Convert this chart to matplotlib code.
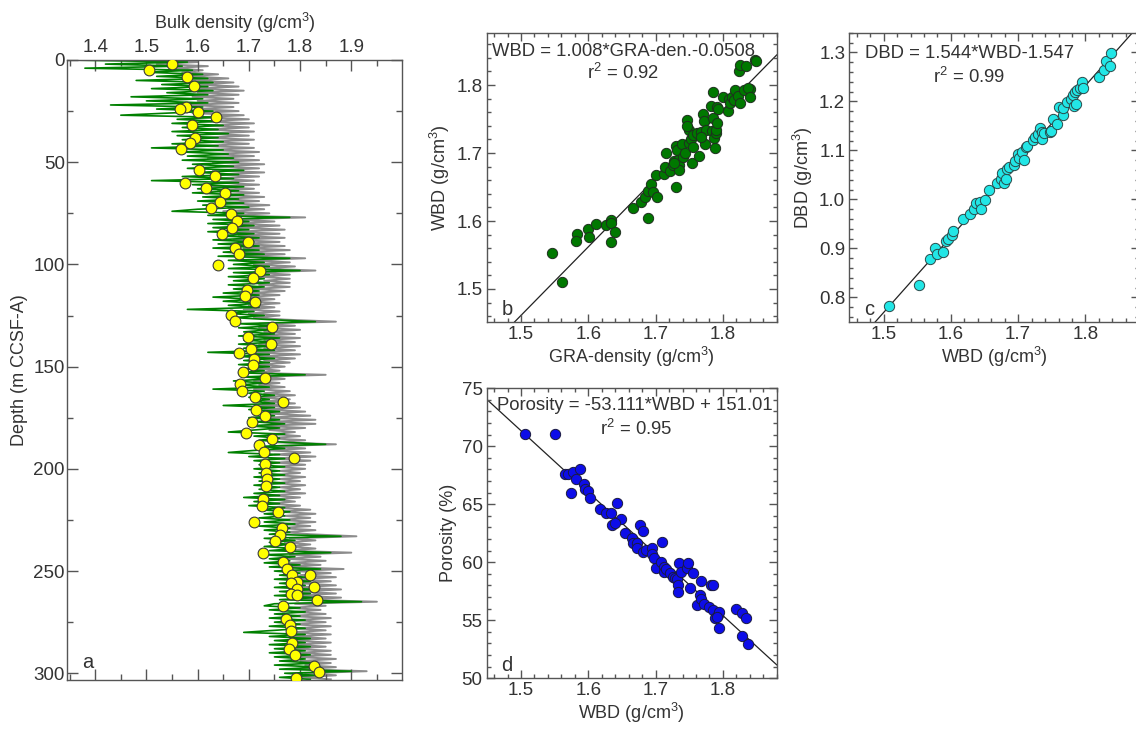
import numpy as np
import matplotlib
matplotlib.use("Agg")
import matplotlib.pyplot as plt
from matplotlib.ticker import MultipleLocator, FixedLocator

plt.rcParams['font.family'] = ['Liberation Sans', 'DejaVu Sans']
plt.rcParams['mathtext.default'] = 'regular'

# ---------------- Panel a data ----------------
depth_log = list(range(0, 304))  # m CCSF-A, 1 m step
green_log = [
    1.35, 1.58, 1.42, 1.57, 1.38, 1.59, 1.50, 1.61, 1.52, 1.62,
    1.48, 1.63, 1.53, 1.62, 1.51, 1.63, 1.54, 1.62, 1.47, 1.61,
    1.50, 1.62, 1.43, 1.61, 1.52, 1.63, 1.54, 1.45, 1.64, 1.56,
    1.64, 1.55, 1.65, 1.57, 1.64, 1.55, 1.66, 1.56, 1.64, 1.57,
    1.65, 1.55, 1.64, 1.51, 1.65, 1.57, 1.66, 1.58, 1.67, 1.57,
    1.68, 1.59, 1.67, 1.58, 1.69, 1.60, 1.68, 1.57, 1.67, 1.51,
    1.68, 1.59, 1.69, 1.60, 1.68, 1.59, 1.69, 1.61, 1.68, 1.60,
    1.69, 1.61, 1.70, 1.60, 1.55, 1.69, 1.62, 1.78, 1.63, 1.70,
    1.62, 1.71, 1.63, 1.70, 1.62, 1.71, 1.64, 1.72, 1.63, 1.71,
    1.64, 1.72, 1.63, 1.72, 1.65, 1.73, 1.64, 1.78, 1.66, 1.73,
    1.67, 1.74, 1.66, 1.80, 1.67, 1.74, 1.66, 1.73, 1.67, 1.74,
    1.66, 1.73, 1.67, 1.72, 1.65, 1.72, 1.63, 1.71, 1.65, 1.72,
    1.66, 1.72, 1.58, 1.71, 1.66, 1.73, 1.67, 1.74, 1.83, 1.68,
    1.75, 1.68, 1.74, 1.69, 1.75, 1.68, 1.76, 1.69, 1.75, 1.68,
    1.74, 1.69, 1.75, 1.62, 1.74, 1.68, 1.75, 1.69, 1.74, 1.68,
    1.74, 1.69, 1.73, 1.68, 1.81, 1.69, 1.74, 1.67, 1.73, 1.68,
    1.74, 1.63, 1.73, 1.70, 1.75, 1.70, 1.74, 1.71, 1.75, 1.65,
    1.75, 1.70, 1.76, 1.71, 1.75, 1.70, 1.76, 1.71, 1.77, 1.70,
    1.76, 1.71, 1.66, 1.77, 1.71, 1.76, 1.72, 1.77, 1.85, 1.72,
    1.77, 1.71, 1.66, 1.76, 1.70, 1.77, 1.71, 1.76, 1.72, 1.77,
    1.71, 1.76, 1.72, 1.77, 1.71, 1.76, 1.72, 1.77, 1.71, 1.76,
    1.72, 1.77, 1.71, 1.76, 1.69, 1.77, 1.71, 1.76, 1.70, 1.77,
    1.72, 1.78, 1.73, 1.77, 1.72, 1.78, 1.73, 1.79, 1.72, 1.78,
    1.73, 1.78, 1.74, 1.88, 1.73, 1.79, 1.74, 1.78, 1.73, 1.79,
    1.74, 1.86, 1.73, 1.79, 1.74, 1.78, 1.73, 1.80, 1.74, 1.84,
    1.75, 1.80, 1.76, 1.81, 1.75, 1.82, 1.76, 1.81, 1.75, 1.83,
    1.76, 1.82, 1.75, 1.83, 1.76, 1.92, 1.75, 1.73, 1.80, 1.74,
    1.81, 1.75, 1.80, 1.74, 1.81, 1.75, 1.80, 1.74, 1.81, 1.75,
    1.69, 1.81, 1.74, 1.82, 1.75, 1.81, 1.74, 1.82, 1.75, 1.81,
    1.74, 1.82, 1.75, 1.81, 1.76, 1.83, 1.75, 1.84, 1.76, 1.90,
    1.77, 1.83, 1.76, 1.82,
]
gray_log = [
    1.55, 1.60, 1.52, 1.62, 1.55, 1.61, 1.57, 1.64, 1.58, 1.66,
    1.59, 1.67, 1.60, 1.68, 1.59, 1.69, 1.60, 1.68, 1.59, 1.67,
    1.60, 1.68, 1.58, 1.67, 1.60, 1.68, 1.59, 1.69, 1.61, 1.70,
    1.61, 1.71, 1.62, 1.70, 1.61, 1.71, 1.62, 1.70, 1.61, 1.71,
    1.62, 1.70, 1.61, 1.71, 1.62, 1.72, 1.63, 1.71, 1.62, 1.72,
    1.63, 1.73, 1.64, 1.72, 1.63, 1.73, 1.64, 1.72, 1.63, 1.71,
    1.64, 1.72, 1.63, 1.71, 1.64, 1.72, 1.65, 1.73, 1.64, 1.72,
    1.65, 1.74, 1.66, 1.73, 1.65, 1.74, 1.66, 1.81, 1.67, 1.75,
    1.67, 1.76, 1.68, 1.77, 1.67, 1.76, 1.68, 1.77, 1.67, 1.76,
    1.68, 1.77, 1.69, 1.78, 1.68, 1.77, 1.69, 1.81, 1.70, 1.78,
    1.71, 1.79, 1.72, 1.83, 1.71, 1.78, 1.72, 1.78, 1.73, 1.78,
    1.72, 1.78, 1.71, 1.77, 1.70, 1.76, 1.69, 1.75, 1.70, 1.76,
    1.70, 1.75, 1.69, 1.76, 1.70, 1.76, 1.71, 1.77, 1.87, 1.72,
    1.79, 1.72, 1.80, 1.73, 1.79, 1.72, 1.80, 1.73, 1.79, 1.72,
    1.80, 1.73, 1.79, 1.71, 1.80, 1.72, 1.79, 1.73, 1.78, 1.72,
    1.77, 1.72, 1.76, 1.71, 1.85, 1.72, 1.77, 1.71, 1.76, 1.72,
    1.77, 1.71, 1.78, 1.73, 1.79, 1.72, 1.78, 1.73, 1.79, 1.72,
    1.80, 1.73, 1.81, 1.74, 1.82, 1.73, 1.83, 1.74, 1.83, 1.73,
    1.81, 1.74, 1.79, 1.75, 1.80, 1.74, 1.81, 1.75, 1.87, 1.74,
    1.81, 1.74, 1.82, 1.75, 1.83, 1.74, 1.82, 1.75, 1.81, 1.75,
    1.81, 1.76, 1.80, 1.75, 1.81, 1.76, 1.80, 1.75, 1.81, 1.76,
    1.80, 1.75, 1.81, 1.74, 1.80, 1.75, 1.79, 1.74, 1.80, 1.75,
    1.82, 1.76, 1.83, 1.77, 1.82, 1.76, 1.83, 1.77, 1.82, 1.76,
    1.83, 1.77, 1.82, 1.91, 1.78, 1.83, 1.77, 1.82, 1.78, 1.83,
    1.77, 1.90, 1.78, 1.84, 1.77, 1.85, 1.78, 1.84, 1.77, 1.885,
    1.79, 1.86, 1.80, 1.87, 1.79, 1.86, 1.80, 1.87, 1.79, 1.88,
    1.80, 1.87, 1.79, 1.88, 1.80, 1.95, 1.79, 1.85, 1.78, 1.84,
    1.79, 1.85, 1.78, 1.86, 1.79, 1.85, 1.78, 1.86, 1.79, 1.85,
    1.78, 1.86, 1.79, 1.85, 1.78, 1.86, 1.79, 1.85, 1.78, 1.86,
    1.80, 1.86, 1.79, 1.87, 1.80, 1.86, 1.81, 1.87, 1.80, 1.93,
    1.81, 1.87, 1.80, 1.86,
]
mad_depth = [2.0, 4.9, 8.2, 12.6, 22.8, 24.1, 25.6, 28.0, 31.8, 38.3, 40.8, 43.7,
             53.8, 56.8, 60.0, 62.7, 65.3, 69.5, 72.3, 75.4, 79.0, 82.1, 85.0, 88.9,
             92.0, 95.1, 100.2, 103.3, 106.4, 112.4, 115.5, 118.5, 124.5, 127.6, 130.5,
             135.4, 138.7, 141.5, 143.3, 146.2, 149.3, 152.6, 155.8, 158.7, 162.0,
             164.8, 167.4, 171.3, 174.1, 177.2, 182.4, 185.4, 188.4, 191.9, 194.8,
             197.6, 202.0, 205.0, 208.5, 214.9, 218.0, 220.9, 226.1, 229.1, 232.2,
             235.3, 238.2, 241.3, 245.7, 248.8, 251.9, 251.7, 255.3, 255.7, 257.9,
             258.6, 261.2, 261.5, 264.2, 267.3, 273.5, 276.5, 279.5, 285.0, 288.0,
             290.9, 296.3, 299.2, 302.2]
mad_density = [1.550, 1.506, 1.580, 1.593, 1.578, 1.565, 1.600, 1.635, 1.590, 1.594,
               1.586, 1.567, 1.602, 1.633, 1.575, 1.617, 1.654, 1.643, 1.626, 1.666,
               1.677, 1.668, 1.648, 1.699, 1.673, 1.681, 1.640, 1.722, 1.709, 1.696,
               1.692, 1.712, 1.666, 1.672, 1.746, 1.698, 1.743, 1.704, 1.681, 1.710,
               1.708, 1.688, 1.731, 1.683, 1.686, 1.712, 1.766, 1.713, 1.732, 1.707,
               1.694, 1.745, 1.720, 1.729, 1.789, 1.732, 1.734, 1.735, 1.733, 1.727,
               1.725, 1.757, 1.711, 1.764, 1.761, 1.751, 1.781, 1.728, 1.767, 1.774,
               1.784, 1.819, 1.794, 1.783, 1.828, 1.794, 1.782, 1.794, 1.834, 1.767,
               1.772, 1.780, 1.783, 1.785, 1.778, 1.791, 1.828, 1.836, 1.792]

# ---------------- Panel b data ----------------
gra_b = [1.546, 1.561, 1.583, 1.582, 1.599, 1.601, 1.611, 1.626, 1.633, 1.633, 1.640,
         1.634, 1.666, 1.679, 1.688, 1.685, 1.688, 1.693, 1.696, 1.702, 1.700, 1.712,
         1.714, 1.716, 1.721, 1.726, 1.727, 1.730, 1.730, 1.732, 1.734, 1.735, 1.735,
         1.739, 1.741, 1.744, 1.746, 1.749, 1.750, 1.753, 1.754, 1.756, 1.756, 1.761,
         1.765, 1.768, 1.770, 1.772, 1.774, 1.775, 1.784, 1.785, 1.783, 1.786, 1.787,
         1.788, 1.790, 1.791, 1.790, 1.792, 1.793, 1.800, 1.808, 1.809, 1.810, 1.813,
         1.816, 1.818, 1.822, 1.824, 1.825, 1.825, 1.831, 1.835, 1.840, 1.838, 1.841,
         1.848, 1.849, 1.747, 1.768, 1.727]
wbd_b = [1.553, 1.510, 1.581, 1.571, 1.588, 1.577, 1.596, 1.594, 1.602, 1.597, 1.584,
         1.569, 1.619, 1.628, 1.605, 1.636, 1.644, 1.655, 1.642, 1.635, 1.668, 1.669,
         1.679, 1.700, 1.674, 1.682, 1.688, 1.650, 1.711, 1.704, 1.690, 1.682, 1.675,
         1.713, 1.694, 1.700, 1.749, 1.734, 1.715, 1.721, 1.685, 1.709, 1.726, 1.729,
         1.696, 1.731, 1.757, 1.747, 1.713, 1.734, 1.733, 1.790, 1.769, 1.752, 1.722,
         1.708, 1.730, 1.768, 1.734, 1.744, 1.765, 1.783, 1.762, 1.780, 1.773, 1.782,
         1.778, 1.792, 1.784, 1.820, 1.829, 1.774, 1.793, 1.828, 1.794, 1.795, 1.783,
         1.837, 1.836, 1.740, 1.724, 1.686]
fit_b = (1.008, -0.0508)

# ---------------- Panel c data ----------------
wbd_c = [1.508, 1.552, 1.569, 1.576, 1.579, 1.588, 1.592, 1.596, 1.602, 1.603, 1.618,
         1.628, 1.635, 1.637, 1.643, 1.644, 1.650, 1.656, 1.668, 1.674, 1.676, 1.679,
         1.682, 1.683, 1.687, 1.694, 1.696, 1.700, 1.701, 1.706, 1.709, 1.711, 1.713,
         1.722, 1.725, 1.730, 1.733, 1.735, 1.736, 1.738, 1.748, 1.749, 1.752, 1.757,
         1.761, 1.766, 1.767, 1.773, 1.779, 1.782, 1.783, 1.786, 1.785, 1.788, 1.792,
         1.795, 1.796, 1.820, 1.828, 1.830, 1.836, 1.838]
dbd_c = [0.783, 0.825, 0.878, 0.900, 0.888, 0.892, 0.914, 0.918, 0.927, 0.936, 0.959,
         0.971, 0.980, 0.992, 0.994, 0.980, 0.999, 1.018, 1.034, 1.042, 1.053, 1.034,
         1.042, 1.062, 1.065, 1.069, 1.079, 1.092, 1.085, 1.096, 1.080, 1.106, 1.109,
         1.121, 1.127, 1.133, 1.145, 1.138, 1.124, 1.135, 1.138, 1.139, 1.164, 1.154,
         1.188, 1.172, 1.186, 1.199, 1.204, 1.212, 1.190, 1.194, 1.218, 1.223, 1.228,
         1.239, 1.228, 1.250, 1.264, 1.282, 1.273, 1.298]
fit_c = (1.544, -1.547)

# ---------------- Panel d data ----------------
wbd_d = [1.506, 1.550, 1.566, 1.570, 1.578, 1.587, 1.582, 1.575, 1.593, 1.595, 1.600,
         1.602, 1.617, 1.627, 1.633, 1.643, 1.648, 1.635, 1.640, 1.654, 1.665, 1.666,
         1.672, 1.677, 1.681, 1.672, 1.681, 1.686, 1.694, 1.695, 1.698, 1.700, 1.708,
         1.710, 1.712, 1.713, 1.716, 1.722, 1.726, 1.729, 1.732, 1.733, 1.733, 1.735,
         1.738, 1.746, 1.748, 1.751, 1.756, 1.761, 1.766, 1.767, 1.768, 1.772, 1.780,
         1.783, 1.786, 1.785, 1.788, 1.793, 1.794, 1.794, 1.791, 1.820, 1.828, 1.829,
         1.835, 1.837]
por_d = [71.06, 71.06, 67.59, 67.65, 67.82, 68.07, 67.18, 66.01, 66.72, 66.35, 66.18,
         65.52, 64.57, 64.28, 64.28, 65.09, 63.71, 63.19, 63.42, 62.50, 62.07, 61.64,
         61.64, 63.19, 62.70, 61.21, 60.92, 61.06, 61.21, 60.69, 60.40, 59.48, 60.00,
         61.78, 59.63, 59.20, 59.45, 59.05, 58.76, 58.62, 58.53, 58.05, 57.47, 59.91,
         59.14, 59.54, 59.97, 57.76, 59.08, 56.29, 57.18, 58.39, 56.81, 56.38, 56.18,
         58.05, 58.05, 55.89, 55.17, 55.46, 55.72, 54.37, 55.32, 55.95, 55.60, 53.65,
         55.17, 52.96]
fit_d = (-53.111, 151.01)

TXT = '#333333'
SPINE = '#555555'
TICKFS = 13.5
LABFS = 13
EQFS = 13.3

W, H = 1136, 729
fig = plt.figure(figsize=(W / 100, H / 100), dpi=100)


def ax_px(left, top, right, bottom):
    return fig.add_axes([left / W, (H - bottom) / H, (right - left) / W, (bottom - top) / H])


def style(ax, major_len, minor_len):
    for s in ax.spines.values():
        s.set_color(SPINE)
        s.set_linewidth(1.0)
    ax.tick_params(which='both', direction='in', top=True, right=True,
                   color=SPINE, labelcolor=TXT, labelsize=TICKFS, width=1.0)
    ax.tick_params(which='major', length=major_len, pad=3)
    ax.tick_params(which='minor', length=minor_len)


# ---------------- Panel a ----------------
axa = ax_px(67, 60, 402, 680)
axa.plot(gray_log, depth_log, color='#8c8c8c', lw=1.4, zorder=1)
axa.plot(green_log, depth_log, color='#008000', lw=1.2, zorder=2)
axa.scatter(mad_density, mad_depth, s=60, facecolor='#ffff00', edgecolor='#3a3a3a',
            linewidth=0.8, zorder=3)
axa.set_xlim(1.345, 1.999)
axa.set_ylim(303.3, 0)
axa.xaxis.set_major_locator(FixedLocator([1.4, 1.5, 1.6, 1.7, 1.8, 1.9]))
axa.xaxis.set_minor_locator(FixedLocator([1.35, 1.45, 1.55, 1.65, 1.75, 1.85, 1.95]))
axa.yaxis.set_major_locator(MultipleLocator(50))
axa.yaxis.set_minor_locator(MultipleLocator(25))
style(axa, 8, 4.5)
axa.tick_params(axis='x', labeltop=True, labelbottom=False)
axa.tick_params(axis='y', pad=1.5)
axa.xaxis.set_label_position('top')
axa.set_xlabel('Bulk density (g/cm$^3$)', fontsize=LABFS, color=TXT, labelpad=7)
axa.set_ylabel('Depth (m CCSF-A)', fontsize=LABFS, color=TXT, labelpad=4)
axa.text(0.045, 0.02, 'a', transform=axa.transAxes, fontsize=14.5, color=TXT)

XL = (1.449, 1.880)

# ---------------- Panel b ----------------
axb = ax_px(486.7, 32.7, 776.7, 322.3)
xx = np.array(XL)
axb.plot(xx, fit_b[0] * xx + fit_b[1], color='#222222', lw=0.9, zorder=1)
axb.scatter(gra_b, wbd_b, s=55, facecolor='#007800', edgecolor='#1f2f1f', linewidth=0.7, zorder=2)
axb.set_xlim(*XL)
axb.set_ylim(1.451, 1.877)
axb.xaxis.set_major_locator(FixedLocator([1.5, 1.6, 1.7, 1.8]))
axb.xaxis.set_minor_locator(MultipleLocator(0.02))
axb.yaxis.set_major_locator(FixedLocator([1.5, 1.6, 1.7, 1.8]))
axb.yaxis.set_minor_locator(MultipleLocator(0.02))
style(axb, 5.5, 2.8)
axb.set_xlabel('GRA-density (g/cm$^3$)', fontsize=LABFS, color=TXT, labelpad=1)
axb.set_ylabel('WBD (g/cm$^3$)', fontsize=LABFS, color=TXT, labelpad=3)
axb.text(0.47, 0.934, 'WBD = 1.008*GRA-den.-0.0508', transform=axb.transAxes,
         ha='center', va='center', fontsize=EQFS, color=TXT)
axb.text(0.47, 0.861, 'r$^2$ = 0.92', transform=axb.transAxes,
         ha='center', va='center', fontsize=EQFS, color=TXT)
axb.text(0.05, 0.025, 'b', transform=axb.transAxes, fontsize=14.5, color=TXT)

# ---------------- Panel c ----------------
axc = ax_px(849.3, 32.7, 1139.3, 322.3)
axc.plot(xx, fit_c[0] * xx + fit_c[1], color='#222222', lw=0.9, zorder=1)
axc.scatter(wbd_c, dbd_c, s=55, facecolor='#22e6e6', edgecolor='#2a4a4a', linewidth=0.7, zorder=2)
axc.set_xlim(*XL)
axc.set_ylim(0.749, 1.34)
axc.xaxis.set_major_locator(FixedLocator([1.5, 1.6, 1.7, 1.8]))
axc.xaxis.set_minor_locator(MultipleLocator(0.02))
axc.yaxis.set_major_locator(FixedLocator([0.8, 0.9, 1.0, 1.1, 1.2, 1.3]))
axc.yaxis.set_minor_locator(MultipleLocator(0.02))
axc.yaxis.set_major_formatter(matplotlib.ticker.FormatStrFormatter('%.1f'))
style(axc, 5.5, 2.8)
axc.set_xlabel('WBD (g/cm$^3$)', fontsize=LABFS, color=TXT, labelpad=1)
axc.set_ylabel('DBD (g/cm$^3$)', fontsize=LABFS, color=TXT, labelpad=3)
axc.text(0.416, 0.929, 'DBD = 1.544*WBD-1.547', transform=axc.transAxes,
         ha='center', va='center', fontsize=EQFS, color=TXT)
axc.text(0.413, 0.846, 'r$^2$ = 0.99', transform=axc.transAxes,
         ha='center', va='center', fontsize=EQFS, color=TXT)
axc.text(0.05, 0.025, 'c', transform=axc.transAxes, fontsize=14.5, color=TXT)

# ---------------- Panel d ----------------
axd = ax_px(486.7, 388.3, 776.7, 678.3)
axd.plot(xx, fit_d[0] * xx + fit_d[1], color='#222222', lw=0.9, zorder=1)
axd.scatter(wbd_d, por_d, s=55, facecolor='#0d0de8', edgecolor='#1a1a40', linewidth=0.7, zorder=2)
axd.set_xlim(*XL)
axd.set_ylim(50, 75)
axd.xaxis.set_major_locator(FixedLocator([1.5, 1.6, 1.7, 1.8]))
axd.xaxis.set_minor_locator(MultipleLocator(0.02))
axd.yaxis.set_major_locator(MultipleLocator(5))
axd.yaxis.set_minor_locator(MultipleLocator(1))
style(axd, 5.5, 2.8)
axd.set_xlabel('WBD (g/cm$^3$)', fontsize=LABFS, color=TXT, labelpad=1)
axd.set_ylabel('Porosity (%)', fontsize=LABFS, color=TXT, labelpad=3)
axd.text(0.511, 0.939, 'Porosity = -53.111*WBD + 151.01', transform=axd.transAxes,
         ha='center', va='center', fontsize=EQFS, color=TXT)
axd.text(0.514, 0.859, 'r$^2$ = 0.95', transform=axd.transAxes,
         ha='center', va='center', fontsize=EQFS, color=TXT)
axd.text(0.05, 0.025, 'd', transform=axd.transAxes, fontsize=14.5, color=TXT)

fig.savefig('out.png', dpi=100)
